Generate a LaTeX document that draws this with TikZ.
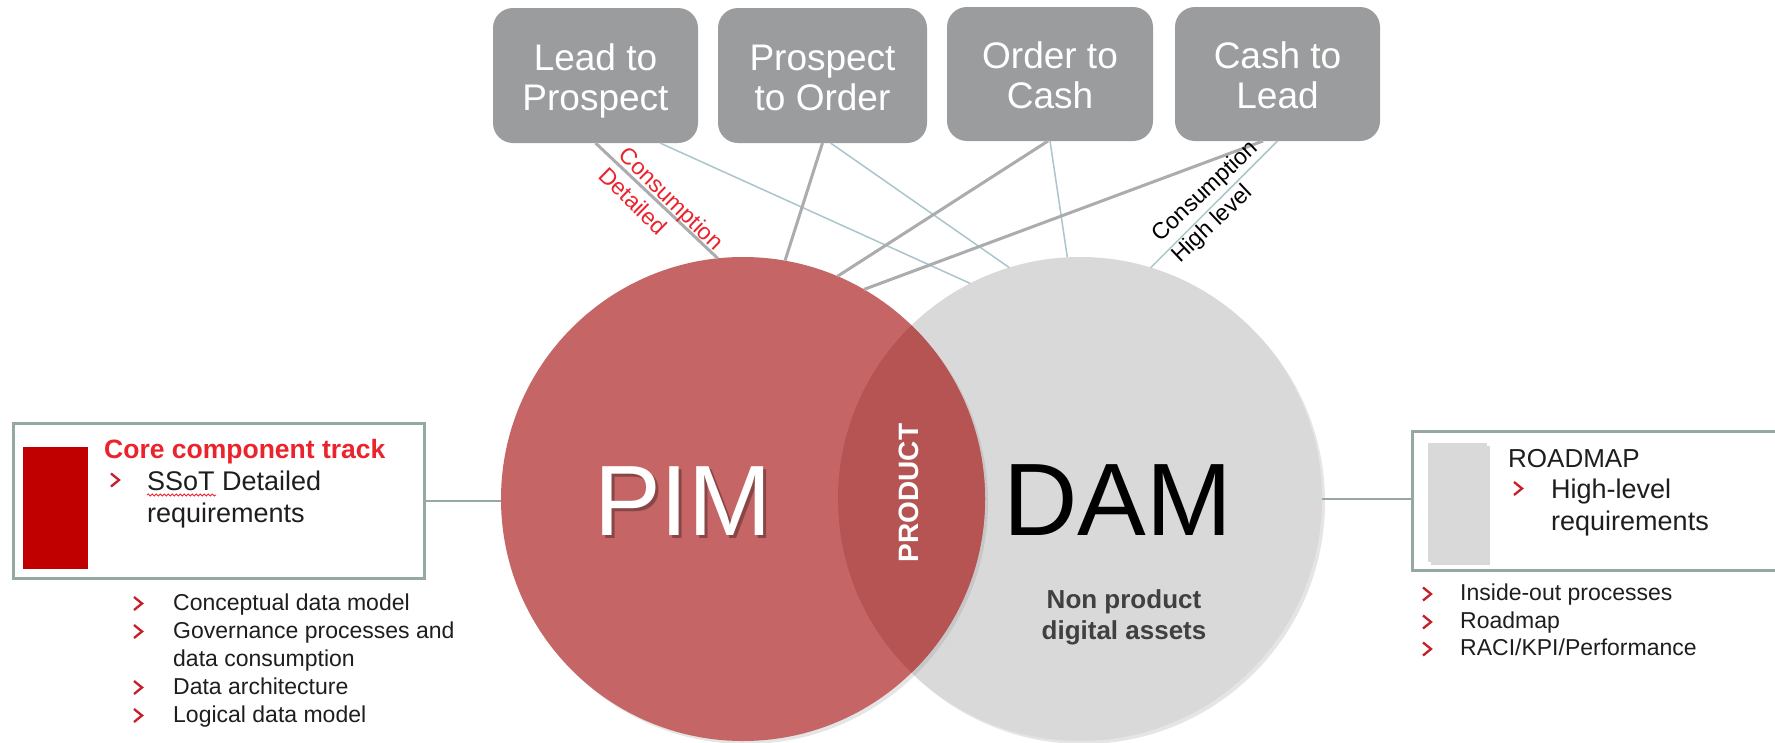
\documentclass[tikz,border=0pt]{standalone}
\usepackage{fontspec}
\setmainfont{Liberation Sans}
\usetikzlibrary{shadows,decorations.pathmorphing}
\definecolor{boxgray}{RGB}{155,156,158}
\definecolor{pimred}{RGB}{197,101,101}
\definecolor{ovred}{RGB}{182,84,84}
\definecolor{damgray}{RGB}{217,217,217}
\definecolor{linegray}{RGB}{170,172,174}
\definecolor{lineblue}{RGB}{170,198,204}
\definecolor{framegray}{RGB}{150,168,163}
\definecolor{barred}{RGB}{192,0,0}
\definecolor{titlered}{RGB}{235,35,45}
\definecolor{bulletred}{RGB}{200,30,40}
\definecolor{textdark}{RGB}{30,30,30}
\definecolor{nptext}{RGB}{64,64,64}
\newcommand\fs[2]{\fontsize{#1}{#2}\selectfont}
\newcommand\tstrut{\rule{0pt}{38pt}}
\newcommand\bstrut{\rule[-9pt]{0pt}{1pt}}
\tikzset{
  topbox/.style={fill=boxgray, rounded corners=20pt, text=white, align=center, inner sep=0pt, outer sep=0pt, font=\fs{37}{40}},
  venn/.style={circle, minimum size=484pt, inner sep=0pt, outer sep=0pt},
  thickline/.style={draw=linegray, line width=3pt},
  thinline/.style={draw=lineblue, line width=1.5pt},
  sideline/.style={draw=framegray, line width=2pt},
  framebox/.style={draw=framegray, line width=3pt, inner sep=0pt, outer sep=0pt},
  bodytext/.style={anchor=base west, inner sep=0pt, text=textdark, font=\fs{27}{32}},
  itemtext/.style={anchor=base west, inner sep=0pt, text=textdark, font=\fs{23}{28}},
  rotlabel/.style={inner sep=0pt, align=left, font=\fs{23}{28.5}},
  softshadow/.style={drop shadow={opacity=0.2, shadow xshift=3pt, shadow yshift=-3pt}},
  bulletmark/.pic={\draw[bulletred, line width=2.3pt, line join=miter] (-4,-6.5) -- (4,0) -- (-4,6.5);},
}
\begin{document}
\begin{tikzpicture}[x=1pt,y=-1pt]
\clip (0,0) rectangle (1775,742);
\fill[white] (0,0) rectangle (1775,742);

% Venn circles
\node[venn, fill=damgray, softshadow] (dam) at (1080,499) {};
\node[venn, fill=pimred, softshadow] (pim) at (743,499) {};
\begin{scope}
  \clip (dam.center) circle[radius=242pt];
  \fill[ovred] (pim.center) circle[radius=242pt];
\end{scope}

% top process boxes
\node[topbox, minimum width=205pt, minimum height=135pt] (lead) at (595.5,75.5) {\tstrut Lead to\\Prospect\bstrut};
\node[topbox, minimum width=209pt, minimum height=135pt] (prospect) at (822.5,75.5) {\tstrut Prospect\\to Order\bstrut};
\node[topbox, minimum width=206pt, minimum height=134pt] (order) at (1050,74) {\tstrut Order to\\Cash\bstrut};
\node[topbox, minimum width=205pt, minimum height=134pt] (cash) at (1277.5,74) {\tstrut Cash to\\Lead\bstrut};

% connectors
\draw[thickline] (lead.south) -- (pim.96);
\draw[thinline] ([xshift=64.5pt]lead.south) -- (dam.117.6);
\draw[thickline] (prospect.south) -- (pim.80.2);
\draw[thinline] ([xshift=8pt]prospect.south) -- (dam.107.6);
\draw[thickline] ([xshift=-2pt]order.south) -- (pim.67.4);
\draw[thinline] (order.south) -- (dam.93.5);
\draw[thickline] ([xshift=-14.5pt]cash.south) -- (pim.60.3);
\draw[thinline] (cash.south) -- (dam.73.7);

% connector labels
\node[rotlabel, text=titlered, rotate=-44.3] (lbldetail) at (661.6,208.5) {Consumption\\Detailed};
\node[rotlabel, text=black, rotate=43.4] (lblhigh) at (1215.5,202.3) {Consumption\\High level};

% circle texts
\node[text=black, opacity=0.3, font=\fs{100}{100}] (pimshadow) at (686,504) {PIM};
\node[text=white, font=\fs{100}{100}] (pimtext) at (683,501) {PIM};
\node[text=black, font=\fs{103}{103}] (damtext) at (1118,500) {DAM};
\node[text=white, font=\bfseries\fs{28}{28}, rotate=90] (product) at (909,493) {PRODUCT};
\node[text=nptext, font=\bfseries\fs{26}{31}, align=center] (nonprod) at (1124,617) {Non product\\digital assets};

% left box
\node[framebox, minimum width=411pt, minimum height=155pt] (leftbox) at (218.5,500.5) {};
\node[fill=barred, minimum width=65pt, minimum height=122pt, inner sep=0pt, outer sep=0pt] (redbar) at (55.5,508) {};
\node[anchor=base west, inner sep=0pt, text=titlered, font=\bfseries\fs{26.5}{30}] (coretitle) at (104,458) {Core component track};
\pic at (115,480) {bulletmark};
\node[bodytext] (ssot) at (147,490) {SSoT Detailed};
\node[bodytext] (reqleft) at (147,522) {requirements};
\draw[titlered, line width=0.8pt, decorate, decoration={snake, amplitude=1.1pt, segment length=4pt}] ([yshift=-5pt]ssot.base west) -- ++(69,0);
\draw[sideline] (leftbox.east) -- (leftbox.east -| pim.west);

% left list
\pic at (138,603.5) {bulletmark};
\node[itemtext] (l1) at (173,610) {Conceptual data model};
\pic at (138,631.5) {bulletmark};
\node[itemtext] (l2) at (173,638) {Governance processes and};
\node[itemtext] (l3) at (173,666) {data consumption};
\pic at (138,687.5) {bulletmark};
\node[itemtext] (l4) at (173,694) {Data architecture};
\pic at (138,715.5) {bulletmark};
\node[itemtext] (l5) at (173,722) {Logical data model};

% right box
\node[framebox, minimum width=378pt, minimum height=139pt] (rightbox) at (1601,500.5) {};
\node[fill=damgray, minimum width=59pt, minimum height=119pt, inner sep=0pt, outer sep=0pt, drop shadow={opacity=0.3, shadow xshift=3pt, shadow yshift=-3pt}] (graybar) at (1457.5,502.5) {};
\node[anchor=base west, inner sep=0pt, text=textdark, font=\fs{26}{30}] (roadmap) at (1508,467) {ROADMAP};
\pic at (1518,488.5) {bulletmark};
\node[bodytext] (highlevel) at (1551,498) {High-level};
\node[bodytext] (reqright) at (1551,530) {requirements};
\draw[sideline] (dam.east) -- (dam.east -| rightbox.west);

% right list
\pic at (1427,594) {bulletmark};
\node[itemtext] (r1) at (1460,600) {Inside-out processes};
\pic at (1427,622) {bulletmark};
\node[itemtext] (r2) at (1460,628) {Roadmap};
\pic at (1427,649) {bulletmark};
\node[itemtext] (r3) at (1460,655) {RACI/KPI/Performance};
\end{tikzpicture}
\end{document}
